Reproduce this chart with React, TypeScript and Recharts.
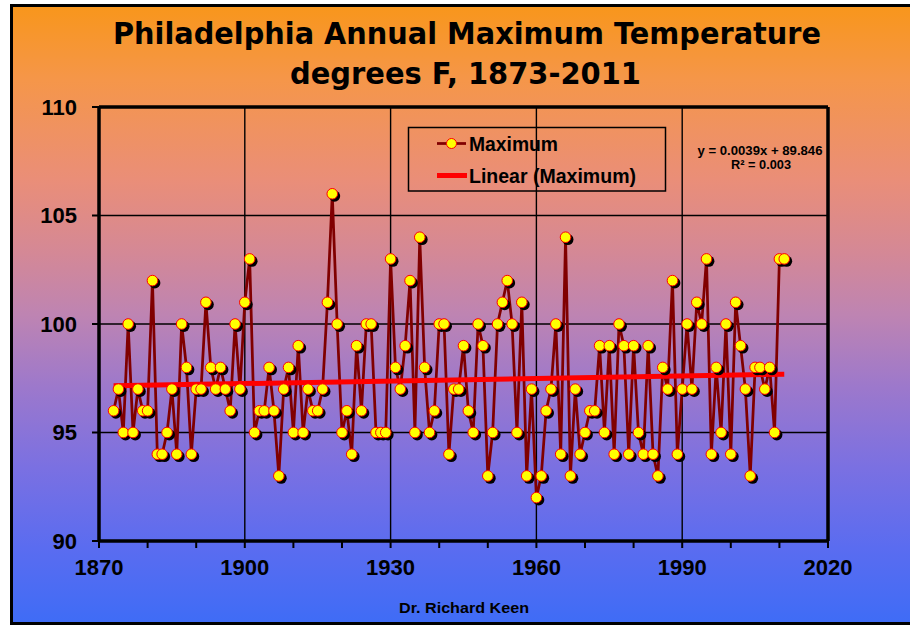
import React from "react";
import { ComposedChart, Line, XAxis, YAxis, CartesianGrid, ReferenceLine } from "recharts";

const YEARS = [
  1873, 1874, 1875, 1876, 1877, 1878, 1879, 1880, 1881, 1882, 1883, 1884, 1885, 1886, 1887, 1888, 1889,
  1890, 1891, 1892, 1893, 1894, 1895, 1896, 1897, 1898, 1899, 1900, 1901, 1902, 1903, 1904, 1905, 1906,
  1907, 1908, 1909, 1910, 1911, 1912, 1913, 1914, 1915, 1916, 1917, 1918, 1919, 1920, 1921, 1922, 1923,
  1924, 1925, 1926, 1927, 1928, 1929, 1930, 1931, 1932, 1933, 1934, 1935, 1936, 1937, 1938, 1939, 1940,
  1941, 1942, 1943, 1944, 1945, 1946, 1947, 1948, 1949, 1950, 1951, 1952, 1953, 1954, 1955, 1956, 1957,
  1958, 1959, 1960, 1961, 1962, 1963, 1964, 1965, 1966, 1967, 1968, 1969, 1970, 1971, 1972, 1973, 1974,
  1975, 1976, 1977, 1978, 1979, 1980, 1981, 1982, 1983, 1984, 1985, 1986, 1987, 1988, 1989, 1990, 1991,
  1992, 1993, 1994, 1995, 1996, 1997, 1998, 1999, 2000, 2001, 2002, 2003, 2004, 2005, 2006, 2007, 2008,
  2009, 2010, 2011,
];

const MAX_TEMPS = [
  96, 97, 95, 100, 95, 97, 96, 96, 102, 94, 94, 95, 97, 94, 100, 98, 94,
  97, 97, 101, 98, 97, 98, 97, 96, 100, 97, 101, 103, 95, 96, 96, 98, 96,
  93, 97, 98, 95, 99, 95, 97, 96, 96, 97, 101, 106, 100, 95, 96, 94, 99,
  96, 100, 100, 95, 95, 95, 103, 98, 97, 99, 102, 95, 104, 98, 95, 96, 100,
  100, 94, 97, 97, 99, 96, 95, 100, 99, 93, 95, 100, 101, 102, 100, 95, 101,
  93, 97, 92, 93, 96, 97, 100, 94, 104, 93, 97, 94, 95, 96, 96, 99, 95,
  99, 94, 100, 99, 94, 99, 95, 94, 99, 94, 93, 98, 97, 102, 94, 97, 100,
  97, 101, 100, 103, 94, 98, 95, 100, 94, 101, 99, 97, 93, 98, 98, 97, 98,
  95, 103, 103,
];

const TREND_YEARS = [1873, 2011];
const TREND_VALUES = [97.15, 97.69];

const X_TICKS = [1870, 1880, 1890, 1900, 1910, 1920, 1930, 1940, 1950, 1960, 1970, 1980, 1990, 2000, 2010, 2020];
const X_LABELED = [1870, 1900, 1930, 1960, 1990, 2020];
const GRID_YEARS = [1900, 1930, 1960, 1990];
const Y_TICKS = [90, 95, 100, 105, 110];

const TITLE_LINES = ["Philadelphia Annual Maximum Temperature", "degrees F, 1873-2011"];
const SERIES_NAME = "Maximum";
const TREND_NAME = "Linear (Maximum)";
const EQUATION = "y = 0.0039x  + 89.846";
const R_SQUARED = "R\u00B2 = 0.003";
const CREDIT = "Dr. Richard Keen";

const data = YEARS.map((year, i) => ({ year, temp: MAX_TEMPS[i] }));
const trendData = TREND_YEARS.map((year, i) => ({ year, trend: TREND_VALUES[i] }));

const ARIAL = "'Liberation Sans', Arial, sans-serif";
const TITLE_FONT = "'DejaVu Sans', Verdana, sans-serif";

const ShadowDot = (props: any) => {
  const { cx, cy, index } = props;
  if (cx == null || cy == null) return <g key={`s${index}`} />;
  return <circle key={`s${index}`} cx={cx + 2.3} cy={cy + 2.3} r={5.6} fill="#000" />;
};

const MarkerDot = (props: any) => {
  const { cx, cy, index } = props;
  if (cx == null || cy == null) return <g key={`m${index}`} />;
  return <circle key={`m${index}`} cx={cx} cy={cy} r={5.3} fill="#FFFF00" stroke="#FF0000" strokeWidth={1} />;
};

const gradient =
  "linear-gradient(to bottom, #F8961C 0%, #F5964A 12%, #EA8E78 28%, #D48896 40%, #BE84B2 50%, #9C78CC 62%, #7A70E2 75%, #5A6CF0 88%, #3F6CF6 100%)";

export default function App() {
  return (
    <div style={{ position: "absolute", left: 0, top: 0, width: 910, height: 625, overflow: "hidden", background: "#fff" }}>
      <div
        style={{
          position: "absolute",
          left: 10,
          top: 4,
          width: 920,
          height: 621,
          boxSizing: "border-box",
          borderLeft: "3.5px solid #000",
          borderTop: "3.5px solid #000",
          borderBottom: "3.5px solid #000",
          background: gradient,
        }}
      />
      <div style={{ position: "absolute", left: 0, top: 0 }}>
        <ComposedChart width={910} height={625} data={data} margin={{ top: 107, right: 82, bottom: 54, left: 39 }}>
          <CartesianGrid vertical={false} stroke="#000" strokeWidth={1.4} fill="none" />
          {GRID_YEARS.map((g) => (
            <ReferenceLine key={g} x={g} stroke="#000" strokeWidth={1.4} />
          ))}
          <ReferenceLine y={110} stroke="#000" strokeWidth={3.5} />
          <ReferenceLine x={2020} stroke="#000" strokeWidth={3.5} />
          <XAxis
            type="number"
            dataKey="year"
            domain={[1870, 2020]}
            ticks={X_TICKS}
            interval={0}
            allowDataOverflow
            tickFormatter={(v: number) => (X_LABELED.includes(v) ? String(v) : "")}
            tick={{ fill: "#000", fontSize: 22, fontWeight: "bold", fontFamily: ARIAL }}
            tickLine={{ stroke: "#000", strokeWidth: 2 }}
            axisLine={{ stroke: "#000", strokeWidth: 3.5 }}
            tickSize={7}
            tickMargin={11}
            height={30}
          />
          <YAxis
            type="number"
            domain={[90, 110]}
            ticks={Y_TICKS}
            interval={0}
            allowDataOverflow
            tick={{ fill: "#000", fontSize: 22, fontWeight: "bold", fontFamily: ARIAL }}
            tickLine={{ stroke: "#000", strokeWidth: 2 }}
            axisLine={{ stroke: "#000", strokeWidth: 3.5 }}
            tickSize={7}
            tickMargin={15}
            width={60}
          />
          <Line
            dataKey="temp"
            type="linear"
            stroke="#800000"
            strokeWidth={2.75}
            dot={false}
            activeDot={false}
            isAnimationActive={false}
          />
          <Line
            data={trendData}
            dataKey="trend"
            type="linear"
            stroke="#FF0000"
            strokeWidth={5}
            dot={false}
            activeDot={false}
            isAnimationActive={false}
          />
          <Line
            dataKey="temp"
            type="linear"
            stroke="none"
            dot={ShadowDot}
            activeDot={false}
            isAnimationActive={false}
          />
          <Line
            dataKey="temp"
            type="linear"
            stroke="none"
            dot={MarkerDot}
            activeDot={false}
            isAnimationActive={false}
          />
        </ComposedChart>
      </div>
      <svg width={910} height={625} style={{ position: "absolute", left: 0, top: 0, pointerEvents: "none" }}>
        <text x={467} y={43.5} textAnchor="middle" fontFamily={TITLE_FONT} fontWeight="bold" fontSize={30} textLength={708} lengthAdjust="spacingAndGlyphs" fill="#000">
          {TITLE_LINES[0]}
        </text>
        <text x={465.5} y={84} textAnchor="middle" fontFamily={TITLE_FONT} fontWeight="bold" fontSize={30} textLength={351} lengthAdjust="spacingAndGlyphs" fill="#000">
          {TITLE_LINES[1]}
        </text>

        <rect x={408.5} y={127.5} width={257} height={63.5} fill="none" stroke="#000" strokeWidth={1.5} />
        <line x1={437} y1={143.5} x2={466} y2={143.5} stroke="#800000" strokeWidth={2.75} />
        <circle cx={451.5} cy={143.5} r={5} fill="#FFFF00" stroke="#FF0000" strokeWidth={1} />
        <text x={469} y={150.5} fontFamily={ARIAL} fontWeight="bold" fontSize={20} textLength={89} lengthAdjust="spacingAndGlyphs" fill="#000">
          {SERIES_NAME}
        </text>
        <line x1={437} y1={175.5} x2={467} y2={175.5} stroke="#FF0000" strokeWidth={5} />
        <text x={469} y={182.5} fontFamily={ARIAL} fontWeight="bold" fontSize={20} textLength={167} lengthAdjust="spacingAndGlyphs" fill="#000">
          {TREND_NAME}
        </text>

        <text x={760} y={155} textAnchor="middle" fontFamily={ARIAL} fontWeight="bold" fontSize={12.5} textLength={125} lengthAdjust="spacingAndGlyphs" fill="#000">
          {EQUATION}
        </text>
        <text x={761} y={169} textAnchor="middle" fontFamily={ARIAL} fontWeight="bold" fontSize={12.5} textLength={60} lengthAdjust="spacingAndGlyphs" fill="#000">
          {R_SQUARED}
        </text>

        <text x={464} y={612.5} textAnchor="middle" fontFamily={ARIAL} fontWeight="bold" fontSize={15} textLength={130} lengthAdjust="spacingAndGlyphs" fill="#000">
          {CREDIT}
        </text>
      </svg>
    </div>
  );
}
